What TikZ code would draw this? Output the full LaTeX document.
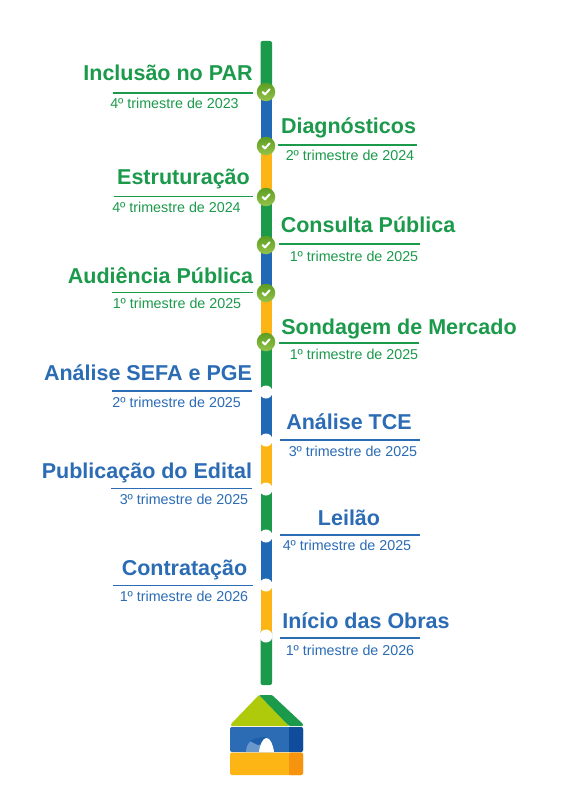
\documentclass[tikz,border=0pt]{standalone}
\usepackage{fontspec}
\setmainfont{Liberation Sans}
\definecolor{tgreen}{HTML}{1B9A4B}
\definecolor{tblue}{HTML}{2B6CB5}
\definecolor{tbar}{HTML}{2269B5}
\definecolor{tyellow}{HTML}{FDB515}
\definecolor{tlime}{HTML}{AFCA0B}
\definecolor{tdblue}{HTML}{0F4C9C}
\definecolor{torange}{HTML}{F7940F}
\definecolor{tchecktop}{HTML}{5A9E22}
\definecolor{tcheckbot}{HTML}{96C24A}
\tikzset{
  ttl/.style={inner sep=0pt,anchor=base,font=\fontsize{21.5}{24}\bfseries\selectfont},
  sub/.style={inner sep=0pt,font=\fontsize{14.3}{16}\selectfont},
  rul/.style={line width=1.1pt},
  done/.style={circle,minimum size=18.5pt,inner sep=0pt,top color=tchecktop,bottom color=tcheckbot,draw=none},
  todo/.style={circle,minimum size=13pt,inner sep=0pt,fill=white},
}
\newcommand{\lab}[8]{% name colour title tx baseline rx1 rx2 ry
  \node[ttl,text=#2] (#1t) at (#4,-#5) {#3};
  \coordinate (#1a) at (#6,-#8);
  \coordinate (#1b) at (#7,-#8);
  \draw[rul,#2] (#1a) -- (#1b);
}
\newcommand{\checkm}[2]{%
  \node[done] (#1) at (266,-#2) {};
  \draw[white,line width=2pt,line cap=round,line join=round] (262.6,-#2) -- (265,-#2-2.4) -- (269.6,-#2+2.6);
}
\begin{document}
\begin{tikzpicture}[x=1pt,y=1pt]
\useasboundingbox (0,0) rectangle (565,-797);
\fill[white] (0,0) rectangle (565,-797);
% line
\fill[tgreen,rounded corners=2pt] (260.5,-41) rectangle (272,-95);
\fill[tbar] (260.5,-92) rectangle (272,-146);
\fill[tyellow] (260.5,-146) rectangle (272,-197);
\fill[tgreen] (260.5,-197) rectangle (272,-245);
\fill[tbar] (260.5,-245) rectangle (272,-293);
\fill[tyellow] (260.5,-293) rectangle (272,-342);
\fill[tgreen] (260.5,-342) rectangle (272,-392);
\fill[tbar] (260.5,-392) rectangle (272,-440);
\fill[tyellow] (260.5,-440) rectangle (272,-489);
\fill[tgreen] (260.5,-489) rectangle (272,-536);
\fill[tbar] (260.5,-536) rectangle (272,-585);
\fill[tgreen,rounded corners=2pt] (260.5,-630) rectangle (272,-685);
\fill[tyellow] (260.5,-585) rectangle (272,-636);
% markers
\checkm{m1}{92}\checkm{m2}{146}\checkm{m3}{197}\checkm{m4}{245}\checkm{m5}{293}\checkm{m6}{342}
\foreach \n/\y in {m7/392,m8/440,m9/489,m10/536,m11/585,m12/636}
  \node[todo] (\n) at (266,-\y) {};
% labels
\lab{a}{tgreen}{Inclusão no PAR}{168}{81}{113}{252.5}{93}
\node[sub,text=tgreen] (as) at (174.5,-103) {4º trimestre de 2023};
\lab{b}{tgreen}{Diagnósticos}{348.5}{133.5}{278}{417}{145}
\node[sub,text=tgreen] (bs) at (350,-155) {2º trimestre de 2024};
\lab{c}{tgreen}{Estruturação}{183.5}{184.5}{113.5}{253}{196.5}
\node[sub,text=tgreen] (cs) at (176.5,-207) {4º trimestre de 2024};
\lab{d}{tgreen}{Consulta Pública}{368}{232.5}{279}{420}{244}
\node[sub,text=tgreen] (ds) at (354,-256) {1º trimestre de 2025};
\lab{e}{tgreen}{Audiência Pública}{160.5}{283}{112}{252.5}{292.7}
\node[sub,text=tgreen] (es) at (177,-303) {1º trimestre de 2025};
\lab{f}{tgreen}{Sondagem de Mercado}{399}{334.5}{279}{419}{343}
\node[sub,text=tgreen] (fs) at (354,-354) {1º trimestre de 2025};
\lab{g}{tblue}{Análise SEFA e PGE}{148}{380.5}{112}{252}{391}
\node[sub,text=tblue] (gs) at (176.7,-402) {2º trimestre de 2025};
\lab{h}{tblue}{Análise TCE}{349}{429}{280}{420}{440}
\node[sub,text=tblue] (hs) at (353,-451) {3º trimestre de 2025};
\lab{i}{tblue}{Publicação do Edital}{147}{478}{111}{252}{488.7}
\node[sub,text=tblue] (is) at (184,-499) {3º trimestre de 2025};
\lab{j}{tblue}{Leilão}{349}{525}{280}{420}{535}
\node[sub,text=tblue] (js) at (347,-545) {4º trimestre de 2025};
\lab{k}{tblue}{Contratação}{184.5}{575}{113}{253}{585.7}
\node[sub,text=tblue] (ks) at (184,-596) {1º trimestre de 2026};
\lab{l}{tblue}{Início das Obras}{366}{628.5}{280}{420}{638}
\node[sub,text=tblue] (ls) at (350,-650) {1º trimestre de 2026};
% house
\fill[tlime,rounded corners=1pt] (231,-726) -- (231,-724) -- (259,-695) -- (289,-726) -- cycle;
\fill[tgreen,rounded corners=1pt] (259,-695) -- (272,-695) -- (303,-724) -- (303,-726) -- (289,-726) -- cycle;
\fill[tblue,rounded corners=2pt] (230,-727) rectangle (303,-752);
\fill[tdblue,rounded corners=2pt] (289,-727) rectangle (303,-752);
\fill[tdblue] (289,-727) rectangle (293,-752);
\fill[tblue!70!white] (246,-752) .. controls (246,-743) and (253,-737) .. (262,-737) -- (274,-752) -- cycle;
\fill[tdblue!45!tblue] (250,-741) .. controls (254,-738) and (258,-737) .. (262,-737) .. controls (264,-737) and (266,-737) .. (268,-738) -- (262,-744) -- (258,-745) -- cycle;
\fill[white] (259,-752) .. controls (260,-744) and (263,-738) .. (266.5,-738) .. controls (270,-738) and (273,-744) .. (274,-752) -- cycle;
\fill[tyellow,rounded corners=2pt] (230,-752.5) rectangle (303,-775);
\fill[torange,rounded corners=2pt] (289,-752.5) rectangle (303,-775);
\fill[torange] (289,-752.5) rectangle (293,-775);
\end{tikzpicture}
\end{document}
